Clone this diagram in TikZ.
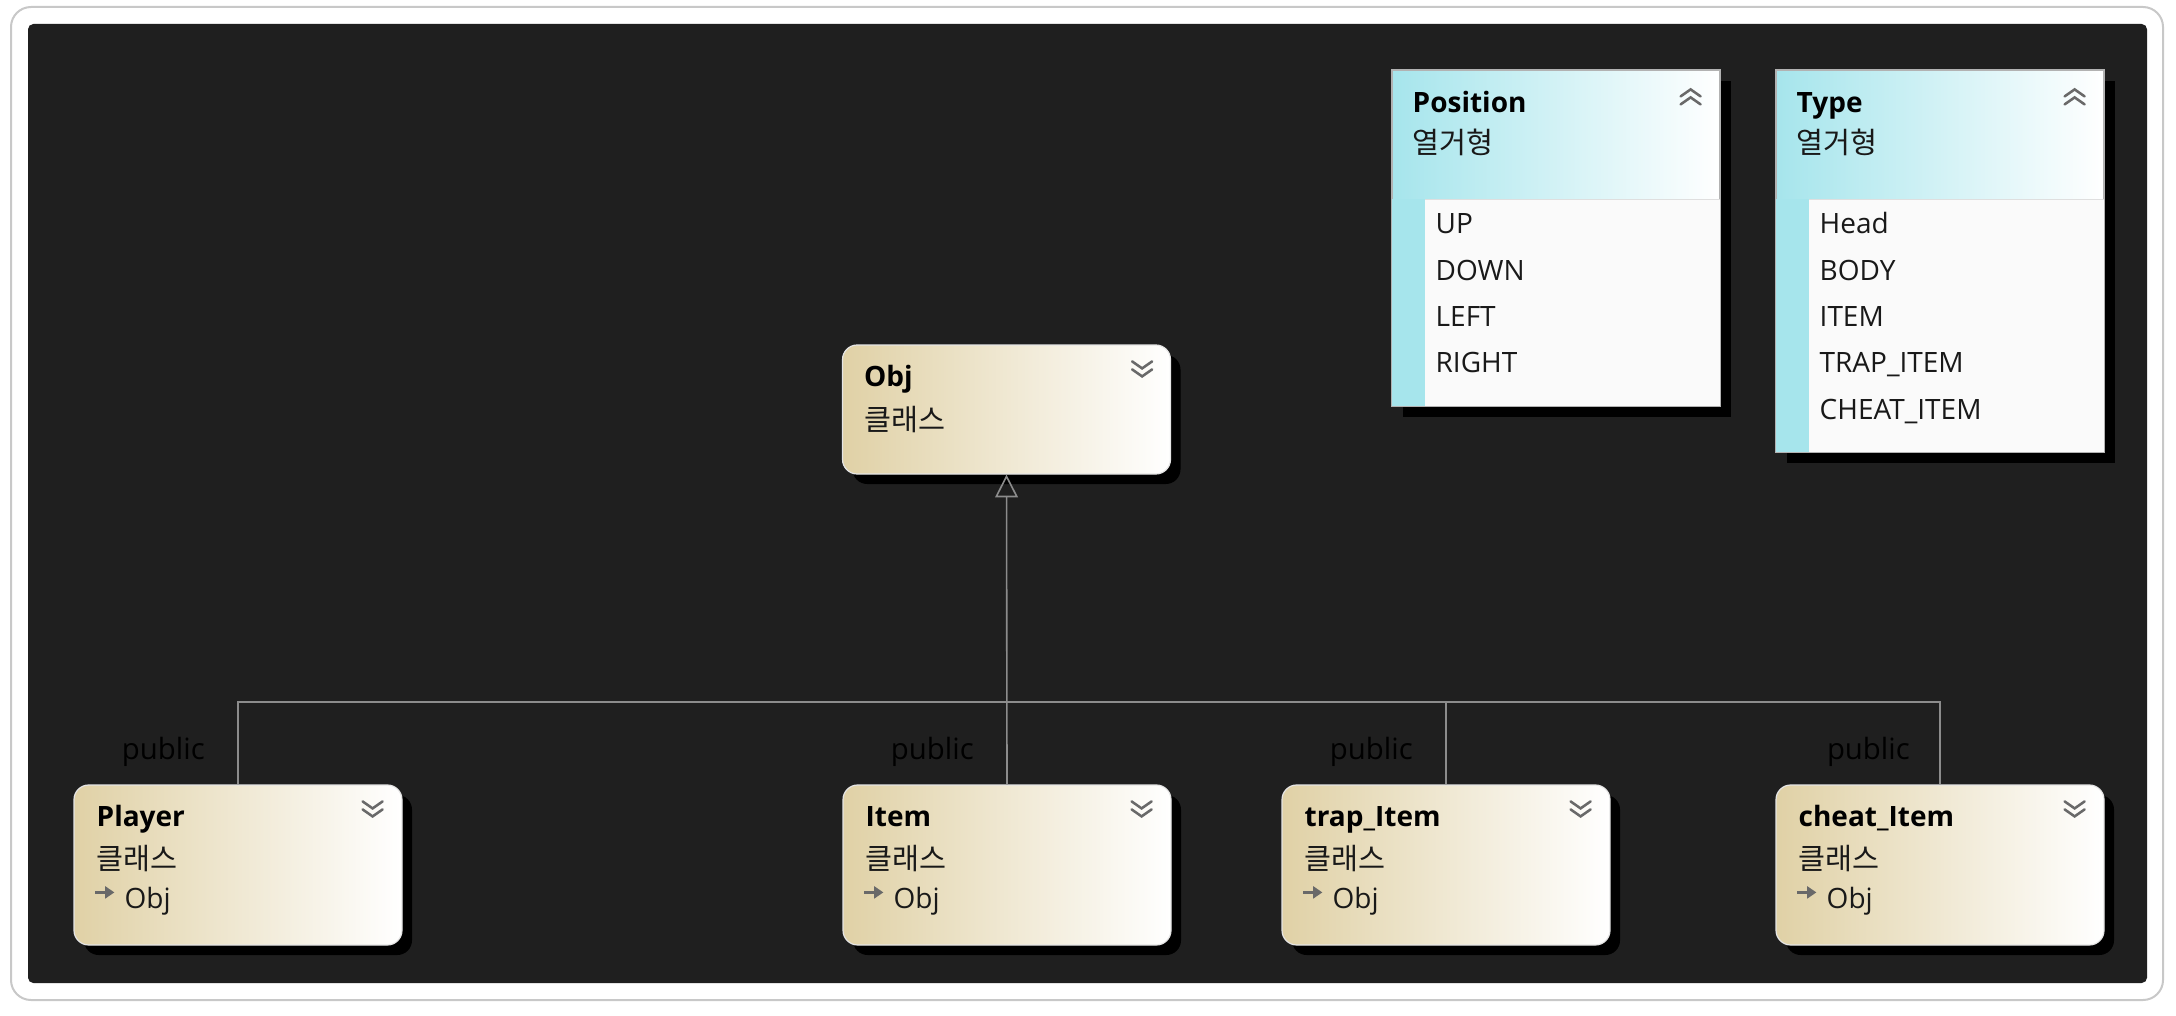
\documentclass[tikz,border=0pt]{standalone}
\usepackage{fontspec}
\setmainfont{Open Sans}
\newfontfamily\kr{Noto Sans CJK KR}
\usetikzlibrary{arrows.meta,shadows,calc}
\definecolor{bgdark}{RGB}{31,31,31}
\definecolor{tanc}{RGB}{224,209,166}
\definecolor{cyanh}{RGB}{166,229,236}
\definecolor{connc}{RGB}{140,140,140}
\definecolor{chevc}{RGB}{105,105,105}
\definecolor{frameg}{RGB}{200,200,200}
\definecolor{listw}{RGB}{250,250,250}
\definecolor{txt}{RGB}{25,25,25}
\tikzset{
  classbox/.style={draw=white!80!gray, line width=0.9pt, rounded corners=11pt,
    left color=tanc, right color=white, minimum width=246pt, inner sep=0pt,
    general shadow={fill=black, shadow xshift=7.5pt, shadow yshift=-7.5pt}},
  enumbox/.style={draw=gray!60, line width=0.9pt, left color=cyanh, right color=white,
    minimum width=246pt, inner sep=0pt,
    general shadow={fill=black, shadow xshift=8pt, shadow yshift=-8pt}},
  titletxt/.style={anchor=base west, font=\fontsize{21}{25}\selectfont\bfseries, text=black, inner sep=0pt},
  kortxt/.style={anchor=base west, font=\kr\fontsize{22}{26}\selectfont, text=txt, inner sep=0pt},
  littxt/.style={anchor=base west, font=\fontsize{21}{25}\selectfont, text=txt, inner sep=0pt},
  pubtxt/.style={anchor=base east, font=\fontsize{22}{26}\selectfont, text=black, inner sep=0pt},
  conn/.style={draw=connc, line width=1.2pt},
  chev/.style={draw=chevc, line width=1.9pt, line cap=round},
  icon/.style={draw=chevc, line width=1.8pt, -{Triangle[length=7pt,width=9pt]}},
  chevdown/.pic={\draw[chev] (-10,-8)--(0,-1)--(10,-8); \draw[chev] (-10,0)--(0,7)--(10,0);},
  chevup/.pic={\draw[chev] (-10,8)--(0,1)--(10,8); \draw[chev] (-10,0)--(0,-7)--(10,0);}
}
\begin{document}
\begin{tikzpicture}[x=0.75pt,y=-0.75pt]
\useasboundingbox (0,0) rectangle (2176,1016);
\fill[white] (0,0) rectangle (2176,1016);
\draw[frameg, line width=1.5pt, rounded corners=15pt] (11,7) rectangle (2163,1000);
\fill[bgdark, rounded corners=4pt] (28,24) rectangle (2147,983);

% class boxes
\node[classbox, minimum height=96.75pt] (obj) at (1006.5,409.5) {};
\node[classbox, minimum height=120pt] (player) at (238,865) {};
\node[classbox, minimum height=120pt] (item) at (1007,865) {};
\node[classbox, minimum height=120pt] (trap) at (1446,865) {};
\node[classbox, minimum height=120pt] (cheat) at (1940,865) {};

% enum boxes
\node[enumbox, minimum height=252pt] (posbox) at (1556,238) {};
\node[enumbox, minimum height=286.5pt] (typebox) at (1940,261) {};

\foreach \b in {posbox,typebox}{
  \fill[cyanh] ($(\b.north west)+(0,130)$) rectangle ($(\b.south west)+(34,0)$);
  \fill[listw] ($(\b.north west)+(34,130)$) rectangle (\b.south east);
  \draw[gray!25, line width=0.9pt] ($(\b.north west)+(34,130)$) -- ($(\b.north east)+(0,130)$);
  \draw[gray!60, line width=0.9pt] (\b.north west) rectangle (\b.south east);
  \pic at ($(\b.north east)+(-30,27)$) {chevup};
  \node[kortxt] (\b-kor) at ($(\b.north west)+(21,84)$) {열거형};
}
\node[titletxt] (posbox-t) at ($(posbox.north west)+(21,43)$) {Position};
\node[titletxt] (typebox-t) at ($(typebox.north west)+(21,43)$) {Type};

\node[littxt] (p1) at ($(posbox.north west)+(44,164)$) {UP};
\node[littxt] (p2) at ($(posbox.north west)+(44,211)$) {DOWN};
\node[littxt] (p3) at ($(posbox.north west)+(44,257)$) {LEFT};
\node[littxt] (p4) at ($(posbox.north west)+(44,303)$) {RIGHT};

\node[littxt] (t1) at ($(typebox.north west)+(44,164)$) {Head};
\node[littxt] (t2) at ($(typebox.north west)+(44,211)$) {BODY};
\node[littxt] (t3) at ($(typebox.north west)+(44,257)$) {ITEM};
\node[littxt] (t4) at ($(typebox.north west)+(44,303)$) {TRAP\_ITEM};
\node[littxt] (t5) at ($(typebox.north west)+(44,350)$) {CHEAT\_ITEM};

% class texts
\node[titletxt] (obj-t) at ($(obj.north west)+(22,42)$) {Obj};
\node[kortxt] (obj-k) at ($(obj.north west)+(22,86)$) {클래스};
\pic at ($(obj.north east)+(-29,25)$) {chevdown};

\foreach \b/\t in {player/Player,item/Item,trap/trap\_Item,cheat/cheat\_Item}{
  \node[titletxt] (\b-t) at ($(\b.north west)+(23,42)$) {\t};
  \node[kortxt] (\b-k) at ($(\b.north west)+(23,85)$) {클래스};
  \draw[icon] ($(\b.north west)+(22,108)$) coordinate (\b-i1) -- ($(\b.north west)+(41,108)$) coordinate (\b-i2);
  \node[littxt] (\b-o) at ($(\b.north west)+(51,124)$) {Obj};
  \pic at ($(\b.north east)+(-30,25)$) {chevdown};
}

% connectors
\coordinate (junc) at (1007,702);
\draw[conn, -{Triangle[open, length=17pt, width=17pt]}] (item.north) -- (obj.south);
\draw[conn] (player.north) |- (junc);
\draw[conn] (cheat.north) |- (junc);
\draw[conn] (trap.north) -- (trap.north |- junc);

% public labels
\node[pubtxt] (pub1) at ($(player.north)+(-33,-25)$) {public};
\node[pubtxt] (pub2) at ($(item.north)+(-33,-25)$) {public};
\node[pubtxt] (pub3) at ($(trap.north)+(-33,-25)$) {public};
\node[pubtxt] (pub4) at ($(cheat.north)+(-30,-25)$) {public};
\end{tikzpicture}
\end{document}
